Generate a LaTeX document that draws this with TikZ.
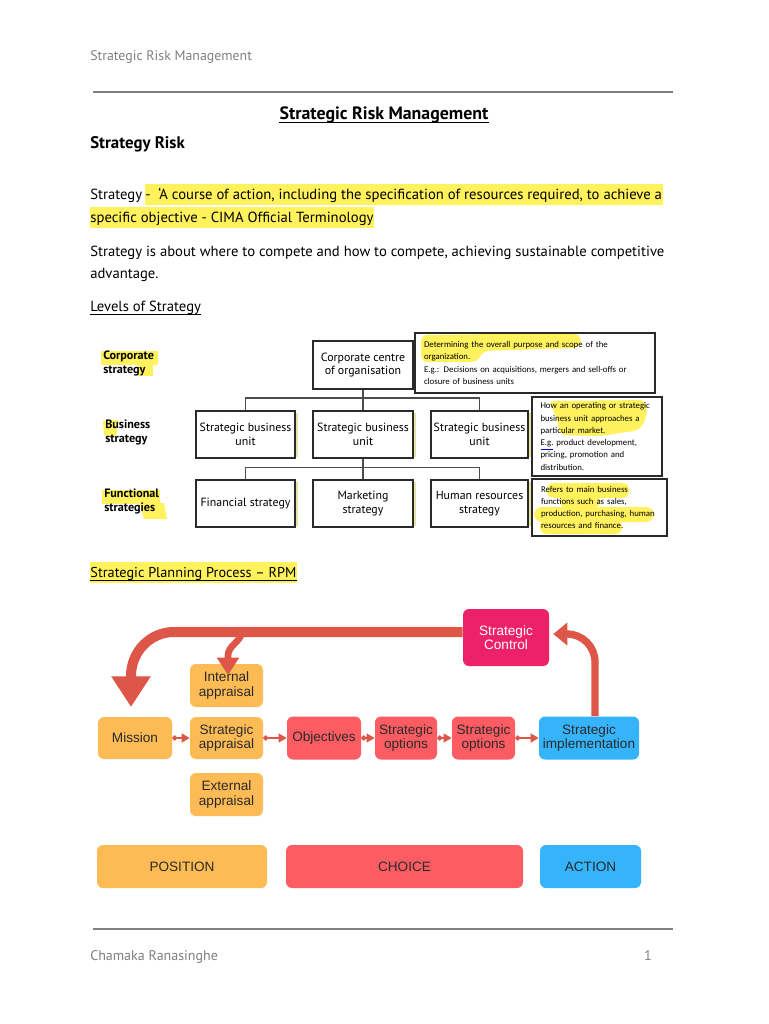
\documentclass[tikz,border=0pt]{standalone}
\usepackage{fontspec}
\setmainfont{PT Sans}
\newfontfamily\carl{Carlito}
\newfontfamily\arl{Liberation Sans}
\usetikzlibrary{arrows.meta,calc}
\definecolor{hl}{HTML}{FFF25C}
\definecolor{orng}{HTML}{FDBB55}
\definecolor{rd}{HTML}{FD5D62}
\definecolor{pnk}{HTML}{EC2168}
\definecolor{blu}{HTML}{35B3FB}
\definecolor{arr}{HTML}{DE5648}
\definecolor{shd}{HTML}{E2E5A6}
\definecolor{gry}{HTML}{808080}
\definecolor{ink}{HTML}{2A2A2A}
\pgfdeclarelayer{bg}
\pgfsetlayers{bg,main}
\newcommand\bodyf{\fontsize{11}{13}\selectfont}
\begin{document}
\begin{tikzpicture}[x=0.75pt,y=-0.75pt,
  txt/.style={inner sep=0pt, anchor=base west, font=\bodyf},
  hltxt/.style={anchor=base west, inner xsep=0.5pt, inner ysep=0pt, text height=11pt, text depth=4.5pt, fill=hl, font=\bodyf},
  wh/.style 2 args={minimum width=#1*0.75pt, minimum height=#2*0.75pt},
  lvlbox/.style={draw=ink, line width=1pt, fill=white, align=center, inner sep=1pt, font=\fontsize{8.9}{10.4}\selectfont},
  lbl/.style={anchor=north west, inner sep=0pt, align=left, font=\bfseries\fontsize{9.1}{10.2}\selectfont},
  desc/.style={draw=ink, line width=0.9pt, align=left, inner sep=0pt, font=\carl\fontsize{6.6}{9.2}\selectfont},
  tree/.style={draw=black!70, line width=0.8pt},
  rp/.style={rounded corners=4.5pt, inner sep=0pt, align=center, text=ink, font=\arl\fontsize{10.2}{10.6}\selectfont},
  lnk/.style={draw=arr, line width=1.6pt, {Circle[length=3.6pt]}-{Triangle[length=6pt,width=6.5pt]}},
]
\useasboundingbox (0,0) rectangle (768,1024);
\begin{pgfonlayer}{bg}
\fill[white] (0,0) rectangle (768,1024);
\end{pgfonlayer}

% header
\node[txt, text=gry, font=\fontsize{10.4}{12}\selectfont] (hdr) at (90,61) {Strategic Risk Management};
\coordinate (ha) at (93,92); \coordinate (hb) at (673,92);
\draw[gry, line width=0.8pt] (ha) -- (hb);

% title
\node[inner sep=0pt, anchor=base, font=\bfseries\fontsize{13.4}{15}\selectfont] (title) at (384,119) {Strategic Risk Management};
\draw[line width=0.7pt] ([yshift=-2.3pt]title.base west) -- ([yshift=-2.3pt]title.base east);
\node[txt, font=\bfseries\fontsize{12.6}{14}\selectfont] (sr) at (90,148) {Strategy Risk};

% body
\node[txt] (b1a) at (90,199) {Strategy};
\node[hltxt] (b1b) at ([xshift=1.5pt]b1a.base east) {-\ \ ‘A course of action, including the specification of resources required, to achieve a};
\node[hltxt] (b2) at (89.5,222) {specific objective - CIMA Official Terminology};
\node[txt] (b3) at (90,256) {Strategy is about where to compete and how to compete, achieving sustainable competitive};
\node[txt] (b4) at (90,278) {advantage.};
\node[txt] (lv) at (90,311) {Levels of Strategy};
\draw[line width=0.6pt] ([yshift=-2.2pt]lv.base west) -- ([yshift=-2.2pt]lv.base east);

% levels of strategy
\begin{pgfonlayer}{bg}
\fill[hl] (101,351) rectangle (158,365);
\fill[hl] (138,364) rectangle (153,376);
\fill[hl] (103,421) -- (118,420) -- (116,437) -- (104,435) -- cycle;
\fill[hl] (102,490) rectangle (160,504);
\fill[hl] (140,504) -- (164,503) -- (167,519) -- (144,519) -- cycle;
\fill[hl, rounded corners=5pt] (421,335) -- (574,333) -- (583,338) -- (578,348) -- (482,351) -- (478,362) -- (421,362) -- cycle;
\fill[hl, rounded corners=5pt] (548,401) -- (646,400) -- (647,416) -- (640,430) -- (600,436) -- (560,435) -- (556,415) -- cycle;
\fill[hl, rounded corners=5pt] (547,483) rectangle (629,498);
\fill[hl, rounded corners=5pt] (560,496) rectangle (600,508);
\fill[hl, rounded corners=6pt] (534,507) rectangle (654,522);
\fill[hl, rounded corners=5pt] (540,520) rectangle (622,534);
\end{pgfonlayer}

\node[lbl] (lc) at (103,351) {Corporate\\strategy};
\node[lbl] (lb) at (105,420) {Business\\strategy};
\node[lbl] (lf) at (104,489) {Functional\\strategies};

\node[lvlbox, wh={100}{48}] (cc) at (363,365) {Corporate centre\\of organisation};
\node[lvlbox, wh={99}{47}] (s1) at (245.5,434.5) {Strategic business\\unit};
\node[lvlbox, wh={100}{47}] (s2) at (363,434.5) {Strategic business\\unit};
\node[lvlbox, wh={97}{47}] (s3) at (479.5,434.5) {Strategic business\\unit};
\node[lvlbox, wh={99}{47}] (f1) at (245.5,503.5) {Financial strategy};
\node[lvlbox, wh={100}{47}] (f2) at (363,503.5) {Marketing\\strategy};
\node[lvlbox, wh={97}{47}] (f3) at (479.5,503.5) {Human resources\\strategy};
\begin{pgfonlayer}{bg}
\foreach \n in {cc,s1,s2,s3,f1,f2,f3}
  \fill[shd] ($(\n.south west)+(2.5,-2)$) rectangle ($(\n.north east)+(2.5,2.5)$);
\end{pgfonlayer}

\coordinate (j1) at (363,398);
\coordinate (j2) at (363,467.5);
\draw[tree] (cc.south) -- (j1) -- (s2.north);
\draw[tree] (s1.north) |- (j1) -| (s3.north);
\draw[tree] (s2.south) -- (j2) -- (f2.north);
\draw[tree] (f1.north) |- (j2) -| (f3.north);

\node[desc, wh={240}{60}, text width=222*0.75pt] (d1) at (535,363) {Determining the overall purpose and scope of the\\organization.\\E.g.: Decisions on acquisitions, mergers and sell-offs or\\closure of business units};
\node[desc, wh={130}{79}, text width=113*0.75pt] (d2) at (597,436.5) {How an operating or strategic\\business unit approaches a\\particular market.\\{\color{blue!75!black}\underline{\color{black}E.g.}} product development,\\pricing, promotion and\\distribution.};
\node[desc, wh={135}{57}, text width=117*0.75pt] (d3) at (599.5,507.5) {Refers to main business\\functions such as sales,\\production, purchasing, human\\resources and finance.};

% RPM heading
\node[hltxt, font=\fontsize{10.7}{13}\selectfont] (rpm) at (89.5,577) {Strategic Planning Process – RPM};
\draw[line width=0.6pt] ([yshift=-2.2pt]rpm.base west) -- ([yshift=-2.2pt]rpm.base east);

% RPM diagram
\node[rp, fill=orng, wh={74}{42}] (mis) at (135,738) {Mission};
\node[rp, fill=orng, wh={73}{43}] (ia) at (226.5,685.5) {Internal\\appraisal};
\node[rp, fill=orng, wh={73}{42}] (sa) at (226.5,738) {Strategic\\appraisal};
\node[rp, fill=orng, wh={73}{43}] (ea) at (226.5,794.5) {External\\appraisal};
\node[rp, fill=rd, wh={74}{43}] (obj) at (324,738) {Objectives};
\node[rp, fill=rd, wh={62}{43}] (so1) at (406,738) {Strategic\\options};
\node[rp, fill=rd, wh={63}{43}] (so2) at (483.5,738) {Strategic\\options};
\node[rp, fill=blu, wh={100}{43}] (imp) at (589,738) {Strategic\\implementation};
\node[rp, fill=pnk, text=white, wh={86}{57}] (ctl) at (506,637.5) {Strategic\\Control};

\node[rp, fill=orng, wh={170}{43}] (pos) at (182,866.5) {POSITION};
\node[rp, fill=rd, wh={237}{43}] (cho) at (404.5,866.5) {CHOICE};
\node[rp, fill=blu, wh={101}{43}] (act) at (590.5,866.5) {ACTION};

\draw[lnk] (mis.east) -- (sa.west);
\draw[lnk] (sa.east) -- (obj.west);
\draw[lnk] (obj.east) -- (so1.west);
\draw[lnk] (so1.east) -- (so2.west);
\draw[lnk] (so2.east) -- (imp.west);

\coordinate (bt) at (131,707);
\coordinate (it) at (228,675);
\draw[arr, line width=7.5pt, -{Triangle[length=23pt,width=28pt]}] ($(ctl.west)+(0,-5.5)$) -- (174,632) to[out=180,in=90] (131,676) -- (bt);
\draw[arr, line width=5pt, -{Triangle[length=13pt,width=16pt]}] (242,632) to[out=-100,in=90] (228,656) -- (it);
\draw[arr, line width=5.5pt, -{Triangle[length=10.5pt,width=16.5pt]}] (imp.north -| 595,0) -- (595,662) to[out=90,in=0] (567,634) -- ($(ctl.east)+(4,-3.5)$);

% footer
\coordinate (fa) at (93,929); \coordinate (fb) at (673,929);
\draw[gry, line width=0.8pt] (fa) -- (fb);
\node[txt, text=gry, font=\fontsize{10.5}{12}\selectfont] (ftr) at (90,960) {Chamaka Ranasinghe};
\node[inner sep=0pt, anchor=base, text=gry, font=\fontsize{10.5}{12}\selectfont] (pg) at (648,960) {1};
\end{tikzpicture}
\end{document}
